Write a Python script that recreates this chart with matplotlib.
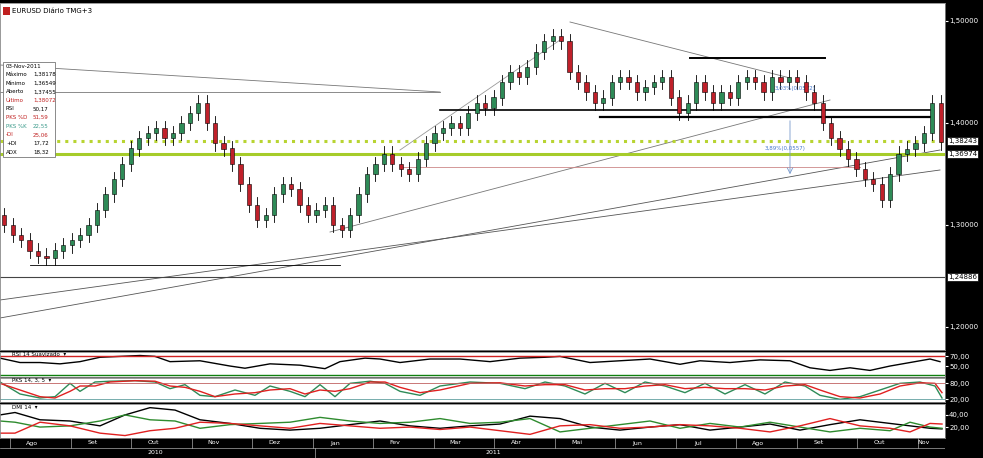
import numpy as np
import matplotlib
matplotlib.use("Agg")
import matplotlib.pyplot as plt
from matplotlib.patches import Rectangle

# closes of 3-day candles, Aug 2010 .. Nov 2011
closes = [1.300, 1.290, 1.285, 1.275, 1.270, 1.268, 1.275, 1.280, 1.285, 1.290,
          1.300, 1.315, 1.330, 1.345, 1.360, 1.375, 1.385, 1.390, 1.395, 1.385,
          1.390, 1.400, 1.410, 1.420, 1.400, 1.380, 1.375, 1.360, 1.340, 1.320,
          1.305, 1.310, 1.330, 1.340, 1.335, 1.320, 1.310, 1.315, 1.320, 1.300,
          1.295, 1.310, 1.330, 1.350, 1.360, 1.370, 1.360, 1.355, 1.350, 1.365,
          1.380, 1.390, 1.395, 1.400, 1.395, 1.410, 1.420, 1.415, 1.425, 1.440,
          1.450, 1.445, 1.455, 1.470, 1.480, 1.485, 1.480, 1.450, 1.440, 1.430,
          1.420, 1.425, 1.440, 1.445, 1.440, 1.430, 1.435, 1.440, 1.445, 1.425,
          1.410, 1.420, 1.440, 1.430, 1.420, 1.430, 1.425, 1.440, 1.445, 1.440,
          1.430, 1.445, 1.440, 1.445, 1.440, 1.430, 1.420, 1.400, 1.385, 1.375,
          1.365, 1.355, 1.345, 1.340, 1.325, 1.350, 1.370, 1.375, 1.380, 1.390,
          1.420, 1.381]
first_open = 1.310
wick = 0.007

months = ["Ago", "Set", "Out", "Nov", "Dez", "Jan", "Fev", "Mar", "Abr", "Mai",
          "Jun", "Jul", "Ago", "Set", "Out", "Nov"]
years = ["2010", "2011"]

# indicator key points (x in chart px)
rsi_x = [0, 20, 40, 60, 80, 100, 120, 140, 155, 170, 200, 230, 245, 270, 300, 325,
         340, 365, 380, 400, 430, 460, 490, 520, 545, 560, 590, 620, 650, 680, 700,
         730, 760, 790, 810, 830, 850, 870, 890, 910, 930, 940]
rsi_y = [68, 58, 58, 55, 60, 70, 72, 74, 72, 60, 62, 50, 45, 55, 52, 44,
         60, 68, 66, 58, 66, 66, 60, 68, 70, 72, 58, 62, 66, 54, 62,
         58, 64, 62, 46, 40, 46, 40, 50, 58, 66, 60]
sto_x = [0, 20, 40, 55, 70, 80, 95, 110, 135, 155, 170, 185, 200, 215, 235, 255,
         270, 290, 305, 320, 335, 350, 370, 385, 400, 420, 440, 470, 500, 525, 545,
         565, 585, 605, 625, 645, 665, 685, 705, 725, 745, 765, 785, 805, 820, 840,
         860, 880, 900, 920, 935, 942]
sto_g = [85, 40, 25, 30, 80, 50, 85, 88, 90, 85, 60, 75, 35, 30, 55, 35,
         70, 50, 30, 75, 30, 80, 88, 80, 50, 35, 70, 85, 80, 60, 85,
         70, 40, 80, 45, 85, 70, 45, 80, 40, 75, 40, 85, 70, 35, 20,
         30, 55, 80, 85, 70, 25]
sto_r = [80, 55, 30, 25, 50, 70, 70, 85, 90, 88, 70, 65, 50, 30, 40, 45,
         55, 60, 40, 55, 50, 60, 85, 85, 65, 45, 55, 80, 82, 70, 75,
         75, 55, 60, 60, 70, 75, 60, 65, 60, 60, 55, 70, 75, 55, 30,
         25, 40, 70, 82, 80, 45]
dmi_x = [0, 15, 40, 70, 100, 125, 150, 175, 200, 230, 260, 290, 320, 350, 380,
         410, 440, 470, 500, 530, 560, 590, 620, 650, 680, 710, 740, 770, 800,
         830, 860, 890, 910, 930, 942]
adx = [40, 44, 32, 30, 22, 40, 52, 48, 32, 26, 18, 15, 18, 24, 30, 22, 18, 22,
       25, 38, 34, 20, 15, 20, 24, 15, 20, 25, 15, 24, 32, 26, 22, 18, 17]
pdi = [30, 28, 20, 22, 30, 40, 32, 30, 18, 24, 26, 28, 36, 30, 26, 28, 34, 26,
       28, 34, 12, 18, 24, 30, 18, 26, 20, 28, 20, 12, 18, 14, 28, 20, 18]
mdi = [10, 10, 28, 22, 10, 6, 14, 18, 28, 26, 22, 18, 26, 22, 18, 20, 16, 20,
       14, 8, 22, 24, 18, 20, 24, 22, 18, 12, 22, 34, 22, 18, 12, 26, 25]

W, H = 983, 458
fig = plt.figure(figsize=(W / 100, H / 100), dpi=100)
fig.patch.set_facecolor("black")
XR = 945


def add_ax(top, bottom, width=XR):
    ax = fig.add_axes([0, 1 - bottom / H, width / W, (bottom - top) / H])
    ax.set_facecolor("white")
    ax.set_xlim(0, XR)
    ax.set_xticks([])
    ax.tick_params(axis="y", colors="white", labelsize=5, length=2,
                   direction="out", pad=1)
    ax.yaxis.tick_right()
    for s in ax.spines.values():
        s.set_color("#888888")
        s.set_linewidth(0.6)
    return ax


def py(y):
    return 1.40 - (y - 123) * 0.1 / 102


ax = add_ax(3, 350)
ax.set_ylim(py(350), py(3))
ax.set_yticks([1.2, 1.3, 1.4, 1.5])
ax.set_yticklabels(["1,20000", "1,30000", "1,40000", "1,50000"])

step = XR / len(closes)
opens = [first_open] + closes[:-1]
for i, (o, c) in enumerate(zip(opens, closes)):
    x = i * step + step / 2
    col = "#2e8b57" if c >= o else "#c0202a"
    ax.plot([x, x], [min(o, c) - wick, max(o, c) + wick], color="black", lw=0.6, zorder=3)
    ax.add_patch(Rectangle((x - step * 0.25, min(o, c)), step * 0.5,
                           max(abs(c - o), 0.001), facecolor=col,
                           edgecolor="black", lw=0.4, zorder=4))

# trend lines and levels
ax.plot([0, 940], [py(318), py(150)], color="#555555", lw=0.6)
ax.plot([0, 940], [py(300), py(170)], color="#555555", lw=0.6)
ax.plot([330, 830], [py(232), py(100)], color="#777777", lw=0.6)
ax.plot([0, 440], [py(65), py(92)], color="#777777", lw=0.6)
ax.plot([0, 440], [py(92), py(92)], color="#777777", lw=0.6)
ax.plot([30, 340], [py(265), py(265)], color="black", lw=0.6)
ax.plot([570, 790], [py(22), py(78)], color="#777777", lw=0.6)
ax.plot([400, 560], [py(150), py(40)], color="#999999", lw=0.6)
ax.plot([440, 930], [py(110), py(110)], color="black", lw=1.2)
ax.plot([600, 930], [py(117), py(117)], color="black", lw=1.6)
ax.plot([690, 825], [py(58), py(58)], color="black", lw=1.4)
ax.plot([400, 860], [py(167), py(167)], color="#cc8888", lw=0.6)
ax.annotate("", xy=(790, py(177)), xytext=(790, py(118)),
            arrowprops=dict(arrowstyle="->", color="#7799cc", lw=0.6))
ax.text(775, py(90), "3,03%(0,0572)", fontsize=4, color="#4477cc")
ax.text(765, py(150), "3,89%(0,0557)", fontsize=4, color="#4477cc")
ax.axhline(1.24886, color="#444444", lw=0.8)
ax.axhline(1.38243, color="#b8d432", lw=2.2, ls=":")
ax.axhline(1.36974, color="#a6cc2a", lw=2.2)
for v, t in [(1.38243, "1,38243"), (1.36974, "1,36974"), (1.24886, "1,24886")]:
    ax.text(XR + 3, v, t, fontsize=5, va="center", color="black",
            bbox=dict(fc="white", ec="black", lw=0.5, pad=0.8),
            clip_on=False)

ax.text(12, py(11), "EURUSD Diário TMG+3", fontsize=5, va="center")
ax.add_patch(Rectangle((3, py(15)), 7, py(7) - py(15), fc="#c02020", ec="none"))
info = [("03-Nov-2011", "", "black"), ("Máximo", "1,38178", "black"),
        ("Mínimo", "1,36549", "black"), ("Aberto", "1,37455", "black"),
        ("Último", "1,38072", "#c02020"), ("RSI", "50,17", "black"),
        ("PKS %D", "51,59", "#c02020"), ("PKS %K", "22,55", "#3a9a8a"),
        ("-DI", "25,06", "#c02020"), ("+DI", "17,72", "black"),
        ("ADX", "18,32", "black")]
ax.add_patch(Rectangle((3, py(157)), 52, py(62) - py(157), fc="white",
                       ec="#777777", lw=0.6, zorder=6))
for k, (a, b, c) in enumerate(info):
    yy = py(66 + k * 8.6)
    ax.text(6, yy, a, fontsize=4, color=c, va="center", zorder=7)
    ax.text(33, yy, b, fontsize=4, color=c, va="center", zorder=7)

# RSI
r = add_ax(352, 377)
r.set_ylim(25, 82)
r.plot(rsi_x, rsi_y, color="black", lw=1.0)
r.axhline(72, color="#d02020", lw=1)
r.axhline(30, color="#108010", lw=1)
r.set_yticks([50, 72])
r.set_yticklabels(["50,00", "70,00"])
r.text(12, 77, "RSI 14 Suavizado  ▾", fontsize=4, va="center")

# Stochastic
s = add_ax(378, 402)
s.set_ylim(10, 100)
s.plot(sto_x, sto_g, color="#2e8b57", lw=1.0)
s.plot(sto_x, sto_r, color="#e02020", lw=1.0)
s.axhline(80, color="#c06060", lw=0.6)
s.axhline(20, color="#60a0a0", lw=0.6)
s.set_yticks([20, 80])
s.set_yticklabels(["20,00", "80,00"])
s.text(12, 92, "PKS 14, 3, 5  ▾", fontsize=4, va="center")

# DMI
d = add_ax(404, 438)
d.set_ylim(2, 58)
d.plot(dmi_x, adx, color="black", lw=1.0)
d.plot(dmi_x, pdi, color="#2e8b2e", lw=1.0)
d.plot(dmi_x, mdi, color="#e02020", lw=1.0)
d.set_yticks([20, 40])
d.set_yticklabels(["20,00", "40,00"])
d.text(12, 52, "DMI 14  ▾", fontsize=4, va="center")

# date axis
t = fig.add_axes([0, 0, XR / W, 20 / H])
t.set_facecolor("black")
t.set_xlim(0, XR)
t.set_ylim(0, 20)
t.axis("off")
mw = 60.5
for k, m in enumerate(months):
    x0 = 10 + k * mw
    t.plot([x0, x0], [10, 20], color="#aaaaaa", lw=0.5)
    t.text(x0 + mw / 2 - 8 if k < 15 else x0 + 6, 15, m, fontsize=4.5,
           color="white", ha="center", va="center")
t.plot([315, 315], [0, 10], color="#aaaaaa", lw=0.5)
t.text(155, 5, years[0], fontsize=4.5, color="white", ha="center", va="center")
t.text(493, 5, years[1], fontsize=4.5, color="white", ha="center", va="center")
t.axhline(10, color="#aaaaaa", lw=0.5)

fig.savefig("out.png", dpi=100, facecolor="black")
